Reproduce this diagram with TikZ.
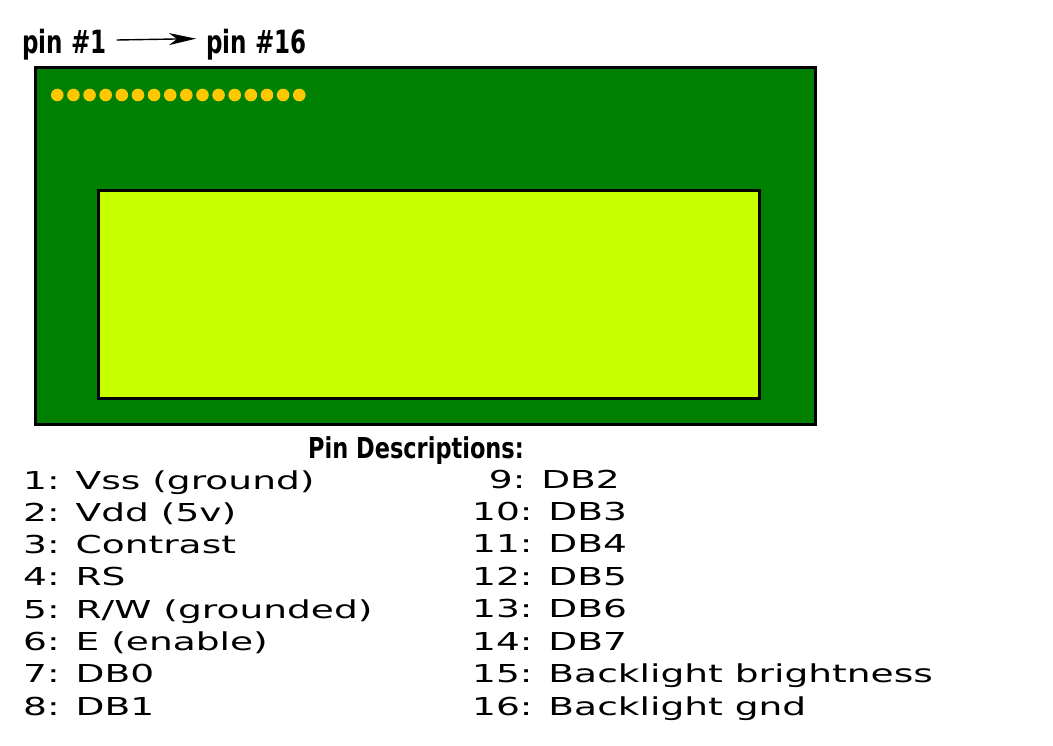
\documentclass[tikz,border=0pt]{standalone}
\usepackage{fontspec}
\setmainfont{DejaVu Sans}
\usepackage{graphicx}
\usetikzlibrary{arrows.meta}
\definecolor{boardgreen}{HTML}{008000}
\definecolor{lcdlime}{HTML}{C8FF00}
\definecolor{pingold}{HTML}{FFC800}
\newcommand{\pindesc}[1]{\scalebox{1.52}[1]{\fontsize{24.7}{24.7}\selectfont #1}}
\newcommand{\pintitle}[1]{\scalebox{0.72}[1]{\fontsize{32}{32}\selectfont\bfseries #1}}
\newcommand{\desctitle}[1]{\scalebox{0.78}[1]{\fontsize{28.8}{28.8}\selectfont\bfseries #1}}
\begin{document}
\begin{tikzpicture}[x=1pt,y=-1pt,
  board/.style={draw=black,line width=3.5pt,fill=boardgreen},
  lcd/.style={draw=black,line width=3pt,fill=lcdlime},
  pindot/.style={circle,fill=pingold,inner sep=0pt,minimum size=12.6pt},
  title/.style={inner sep=0pt,anchor=base west},
  desc/.style={inner sep=0pt,anchor=base west},
  arr/.style={-{Stealth[length=27pt,width=12pt,inset=8pt]},line width=1.4pt}]
\useasboundingbox[fill=white] (0,0) rectangle (1053,745);
% board
\draw[board] (35.5,67.5) rectangle (815.5,424.5);
\draw[lcd] (98,190.5) rectangle (759,398);
% pins
\foreach \i in {0,...,15}{
  \node[pindot] (p\i) at ({57.3+16.13*\i},95) {};
}
% title labels
\node[title] (pin1) at (22,53) {\pintitle{pin \#1}};
\node[title] (pin16) at (206,53) {\pintitle{pin \#16}};
\draw[arr,shorten <=10pt,shorten >=10pt] ([yshift=4pt]pin1.east) -- ([yshift=5.7pt]pin16.west);
% description title
\node[inner sep=0pt,anchor=base] (ptitle) at (416,458) {\desctitle{Pin Descriptions:}};
% left column
\node[desc] (d1) at (23,489) {\pindesc{1: Vss (ground)}};
\node[desc] (d2) at (23,521.3) {\pindesc{2: Vdd (5v)}};
\node[desc] (d3) at (23,553.6) {\pindesc{3: Contrast}};
\node[desc] (d4) at (23,585.9) {\pindesc{4: RS}};
\node[desc] (d5) at (23,618.2) {\pindesc{5: R/W (grounded)}};
\node[desc] (d6) at (23,650.5) {\pindesc{6: E (enable)}};
\node[desc] (d7) at (23,682.8) {\pindesc{7: DB0}};
\node[desc] (d8) at (23,715.1) {\pindesc{8: DB1}};
% right column
\node[desc] (d9) at (488.7,488) {\pindesc{9: DB2}};
\node[desc] (d10) at (472,520.4) {\pindesc{10: DB3}};
\node[desc] (d11) at (472,552.9) {\pindesc{11: DB4}};
\node[desc] (d12) at (472,585.3) {\pindesc{12: DB5}};
\node[desc] (d13) at (472,617.7) {\pindesc{13: DB6}};
\node[desc] (d14) at (472,650.2) {\pindesc{14: DB7}};
\node[desc] (d15) at (472,682.6) {\pindesc{15: Backlight brightness}};
\node[desc] (d16) at (472,715) {\pindesc{16: Backlight gnd}};
\end{tikzpicture}
\end{document}
